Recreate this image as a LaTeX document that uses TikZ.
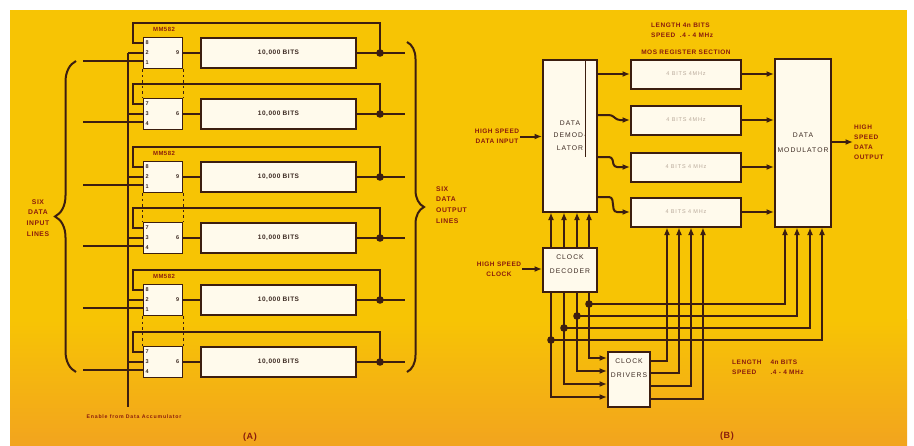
\documentclass[tikz,border=0pt]{standalone}
\usepackage{fontspec}
\setmainfont{Liberation Sans}
\newfontfamily\lblfont[LetterSpace=8]{Liberation Sans}
\newfontfamily\wideFont[LetterSpace=15]{Liberation Sans}
\usetikzlibrary{arrows.meta,decorations.pathreplacing}
\definecolor{ln}{RGB}{60,30,16}
\definecolor{bx}{RGB}{255,250,236}
\definecolor{tr}{RGB}{138,28,12}
\definecolor{tg}{RGB}{60,42,34}
\definecolor{tf}{RGB}{185,170,155}
\definecolor{bgtop}{RGB}{247,196,4}
\definecolor{bgbot}{RGB}{242,164,30}
\begin{document}
\begin{tikzpicture}[x=1pt,y=-1pt,
  wire/.style={draw=ln,line width=2pt},
  warr/.style={draw=ln,line width=2pt,-{Latex[length=7.5pt,width=6pt]}},
  dsh/.style={draw=ln,line width=0.9pt,dash pattern=on 2.5pt off 3pt},
  brc/.style={draw=ln,line width=2pt,decorate},
  regbox/.style={draw=ln,line width=2pt,fill=bx,minimum width=155pt,minimum height=30pt,inner sep=0pt,font=\lblfont\bfseries\fontsize{6.5}{7}\selectfont,text=tg},
  chip/.style={draw=ln,line width=1.8pt,fill=bx,minimum width=39pt,minimum height=31pt,inner sep=0pt},
  pin/.style={font=\lblfont\bfseries\fontsize{5.5}{6}\selectfont,text=tg,inner sep=0pt},
  mm/.style={font=\lblfont\bfseries\fontsize{6}{7}\selectfont,text=tr,inner sep=0pt},
  lbl/.style={font=\lblfont\bfseries\fontsize{6.8}{10.8}\selectfont,text=tr,inner sep=1pt},
  bbox/.style={draw=ln,line width=2pt,fill=bx,inner sep=0pt,align=center,font=\wideFont\fontsize{6.8}{12.5}\selectfont,text=tg},
  btxt/.style={inner sep=0pt,align=center,font=\wideFont\fontsize{6.8}{13.5}\selectfont,text=tg},
  rbox/.style={draw=ln,line width=2pt,fill=bx,inner sep=0pt,minimum width=110pt,minimum height=29pt,font=\wideFont\fontsize{5.5}{6}\selectfont,text=tf},
  rlbl/.style={font=\lblfont\bfseries\fontsize{6.5}{10}\selectfont,text=tr,inner sep=1pt},
]
\useasboundingbox (0,0) rectangle (914,445);
\fill[white] (0,0) rectangle (914,445);
\fill[bgtop] (10,10) rectangle (907,320);
\shade[top color=bgtop,bottom color=bgbot] (10,319.5) rectangle (907,445);

% ---------------- (A) ----------------
\foreach \i/\yy/\pa/\pb/\pc/\po in {1/53/8/2/1/9,2/114/7/3/4/6,3/177/8/2/1/9,4/238/7/3/4/6,5/300/8/2/1/9,6/362/7/3/4/6}{
  \node[regbox] (b\i) at (278.5,\yy) {10,000 BITS};
  \node[chip] (c\i) at (163,\yy) {};
  \node[pin,anchor=west] (pa\i) at (145.5,\yy-10) {\pa};
  \node[pin,anchor=west] (pb\i) at (145.5,\yy) {\pb};
  \node[pin,anchor=west] (pc\i) at (145.5,\yy+9.5) {\pc};
  \node[pin,anchor=east] (po\i) at (179.5,\yy) {\po};
  \coordinate (j\i) at (380,\yy);
  \coordinate (o\i) at (405,\yy);
  \coordinate (lp\i) at (143,\yy-10);
  \coordinate (en\i) at (128,\yy);
  \coordinate (in\i) at (83,\yy+8);
  \draw[wire] (c\i.east) -- (b\i.west);
  \draw[wire] (b\i.east) -- (o\i);
  \draw[wire] (j\i) |- (133,\yy-30) |- (lp\i);
  \draw[wire] (en\i) -- (c\i.west |- en\i);
  \draw[wire] (in\i) -- (c\i.west |- in\i);
  \fill[ln] (j\i) circle (3.8);
}
\coordinate (enb) at (128,407);
\draw[wire] (en1) -- (enb);
\foreach \p/\q in {1/2,3/4,5/6}{
  \draw[dsh] (c\p.south west) -- (c\q.north west);
  \draw[dsh] (c\p.south east) -- (c\q.north east);
}
\foreach \i/\yy in {1/29,3/153,5/276}{
  \node[mm] (mm\i) at (164,\yy) {MM582};
}
\draw[brc,decoration={brace,amplitude=21pt}] (76,372) -- (76,61);
\draw[brc,decoration={brace,amplitude=17pt}] (407,42) -- (407,372);
\node[lbl,align=center] (inl) at (38,218) {SIX\\DATA\\INPUT\\LINES};
\node[lbl,align=left,anchor=west] (outl) at (435,205) {SIX\\DATA\\OUTPUT\\LINES};
\node[mm,font=\wideFont\bfseries\fontsize{5.2}{6}\selectfont] (entxt) at (134,417) {Enable from Data Accumulator};
\node[lbl,font=\lblfont\bfseries\fontsize{9}{10}\selectfont] (capA) at (250,437) {(A)};

% ---------------- (B) ----------------
\node[bbox,minimum width=54pt,minimum height=152pt] (demod) at (570,135.5) {DATA\\DEMOD-\\LATOR};
\draw[ln,line width=0.6pt] (585,61) -- (585,157);
\node[rbox] (r1) at (686,74) {4 BITS 4MHz};
\node[rbox] (r2) at (686,120) {4 BITS 4MHz};
\node[rbox] (r3) at (686,167) {4 BITS 4 MHz};
\node[rbox] (r4) at (686,212) {4 BITS 4 MHz};
\node[bbox,minimum width=56pt,minimum height=168pt,font=\wideFont\fontsize{6.8}{15}\selectfont] (mod) at (803,142.5) {DATA\\MODULATOR};
\node[bbox,minimum width=54pt,minimum height=44pt] (dec) at (570,270) {};
\node[btxt] (dect) at (570,264) {CLOCK\\DECODER};
\node[bbox,minimum width=42pt,minimum height=55pt] (drv) at (629,379.5) {};
\node[btxt] (drvt) at (629,368) {CLOCK\\DRIVERS};

\node[rlbl,align=left,anchor=west] (top) at (650,30.5) {LENGTH 4n BITS\\SPEED \ .4 - 4 MHz};
\node[rlbl,font=\lblfont\bfseries\fontsize{6.5}{7}\selectfont] (mos) at (686,52) {MOS REGISTER SECTION};
\node[rlbl,align=center] (hsdi) at (497,136.5) {HIGH SPEED\\DATA INPUT};
\node[rlbl,align=center] (hsc) at (499,269) {HIGH SPEED\\CLOCK};
\node[rlbl,align=left,anchor=west] (hsdo) at (853,142) {HIGH\\SPEED\\DATA\\OUTPUT};
\node[rlbl,align=left,anchor=west] (bot) at (731,367) {\begin{tabular}{@{}l@{\hspace{9pt}}l@{}}LENGTH & 4n BITS\\SPEED & .4 - 4 MHz\end{tabular}};
\node[lbl,font=\lblfont\bfseries\fontsize{9}{10}\selectfont] (capB) at (727,436) {(B)};

\draw[warr] (hsdi.east) -- (demod.west |- hsdi.east);
\draw[warr] (hsc.east) -- (dec.west |- hsc.east);
\draw[warr] (mod.east |- hsdo.west) -- (hsdo.west);

% demod -> registers
\coordinate (d1) at (demod.east |- r1.west);
\coordinate (d2) at (597,115);
\coordinate (d3) at (597,157);
\coordinate (d4) at (597,197);
\draw[warr] (d1) -- (r1.west);
\draw[warr,rounded corners=3pt] (d2) -- (612,115) -- (617,120) -- (r2.west);
\draw[warr,rounded corners=3pt] (d3) -- (612,157) -- (614,167) -- (r3.west);
\draw[warr,rounded corners=3pt] (d4) -- (612,197) -- (614,212) -- (r4.west);
% registers -> modulator
\foreach \i in {1,2,3,4}{
  \draw[warr] (r\i.east) -- (mod.west |- r\i.east);
}
% decoder -> demodulator
\foreach \xx in {551,564,577,589}{
  \draw[warr] (dec.north -| \xx,0) -- (demod.south -| \xx,0);
}
% decoder -> drivers and modulator
\foreach \xx/\dy/\vy/\mx in {589/304/358/785,577/316/371/797,564/328/384/810,551/340/397/822}{
  \coordinate (s\xx) at (\xx,292);
  \coordinate (k\xx) at (\xx,\dy);
  \coordinate (t\xx) at (\mx,\dy);
  \draw[warr] (s\xx) |- (drv.west |- 0,\vy);
  \draw[warr] (k\xx) -- (t\xx) -- (mod.south -| t\xx);
  \fill[ln] (k\xx) circle (3.8);
}
% drivers -> register
\foreach \vy/\rx in {361/667,373/679,386/691,399/703}{
  \coordinate (q\rx) at (\rx,\vy);
  \draw[warr] (drv.east |- q\rx) -- (q\rx) -- (r4.south -| q\rx);
}
\end{tikzpicture}
\end{document}
